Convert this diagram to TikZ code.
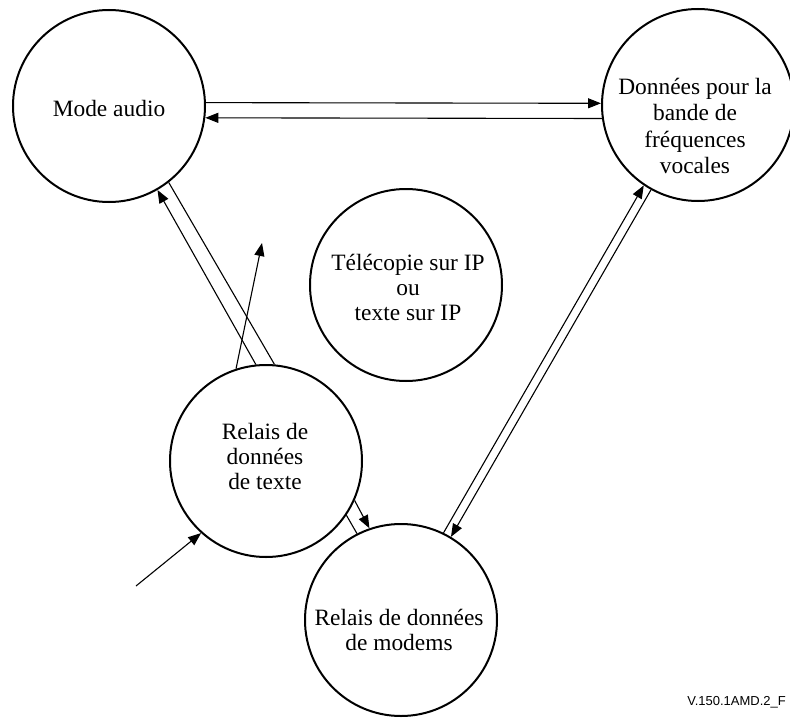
\documentclass[tikz,border=0pt]{standalone}
\usepackage{fontspec}
\setmainfont{Liberation Serif}
\newfontfamily\reffont{Liberation Sans}
\usepackage{tikz}
\usetikzlibrary{arrows.meta}

\begin{document}
\begin{tikzpicture}[
    x=1pt, y=-1pt,
    >={Triangle[length=13pt,width=10pt]},
    etat/.style={circle, draw, line width=2pt, minimum size=192pt, inner sep=0pt},
    etiq/.style={align=center, inner sep=0pt, font=\fontsize{23.4}{25}\selectfont},
    lien/.style={line width=1.1pt, draw=black}
]

\useasboundingbox (0,0) rectangle (790,720);

% etats
\node[etat] (audio) at (109,106) {};
\node[etat] (donnees) at (698,105) {};
\node[etat] (fax) at (406,285) {};
\node[etat] (texte) at (266,461) {};
\node[etat] (modem) at (401,620) {};

\node[etiq] (audio-t) at (109,108) {Mode audio};
\node[etiq, font=\fontsize{23.4}{26.5}\selectfont] (donnees-t) at (695,126) {Donn\'ees pour la\\bande de\\fr\'equences\\vocales};
\node[etiq] (fax-t) at (408,287) {T\'el\'ecopie sur IP\\ou\\texte sur IP};
\node[etiq] (texte-t) at (265,456) {Relais de\\donn\'ees\\de texte};
\node[etiq] (modem-t) at (399,630) {Relais de donn\'ees\\de modems};

\coordinate (entree) at (136,586);
\coordinate (sortie) at (262,243);

% transitions
\draw[lien, ->] (audio.2) -- (donnees.179);
\draw[lien, ->] (donnees.-172) -- (audio.-7);

\draw[lien, ->] (texte.96) -- (audio.-60);
\draw[lien] (texte.85) -- (audio.-52);
\draw[lien, ->] (texte.108) -- (sortie);

\draw[lien] (texte.-34) -- (modem.117);
\draw[lien, ->] (texte.-24) -- (modem.109);

\draw[lien, ->] (modem.64) -- (donnees.-124);
\draw[lien, ->] (donnees.-119) -- (modem.59);

\draw[lien, ->] (entree) -- (texte.-132);

\node[anchor=east, inner sep=0pt, font=\reffont\fontsize{13}{13}\selectfont] (ref) at (786,702) {V.150.1AMD.2\_F};

\end{tikzpicture}
\end{document}
